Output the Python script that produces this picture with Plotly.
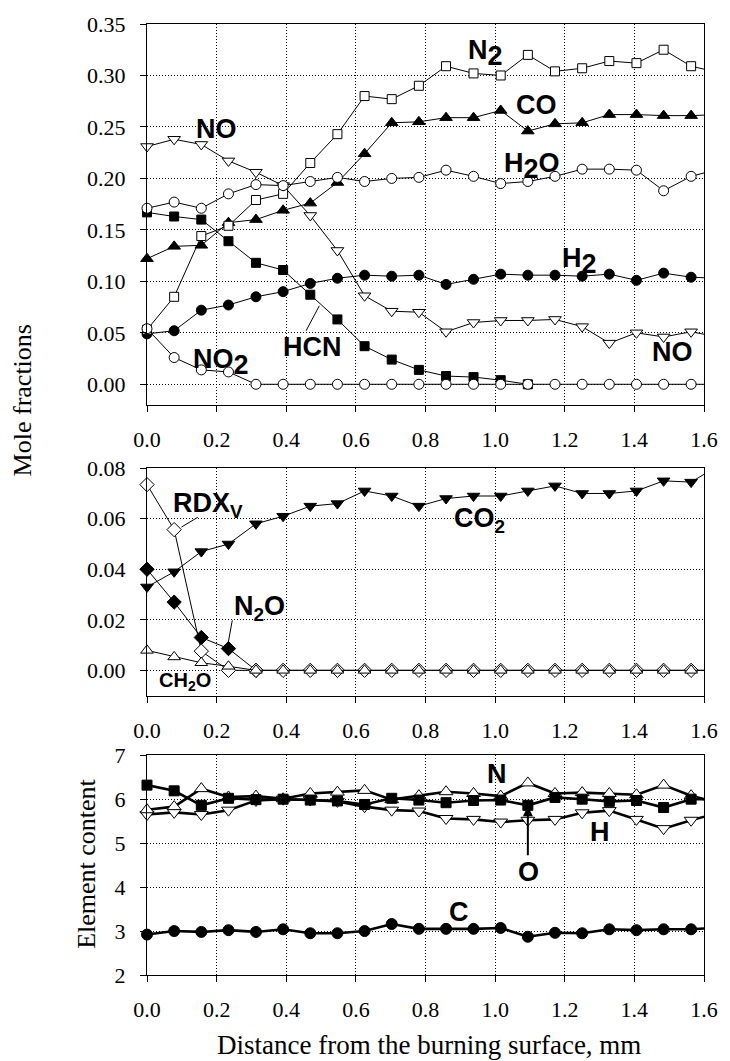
import plotly.graph_objects as go

# ---------------- data ----------------
dist = [0.0, 0.078, 0.156, 0.234, 0.313, 0.391, 0.469, 0.547, 0.625, 0.703, 0.781,
        0.859, 0.938, 1.016, 1.094, 1.172, 1.250, 1.328, 1.406, 1.484, 1.563, 1.641]

# top panel: mole fractions
n2 = [0.053, 0.085, 0.144, 0.154, 0.179, 0.185, 0.215, 0.243, 0.280, 0.277, 0.290,
      0.309, 0.302, 0.300, 0.320, 0.304, 0.307, 0.314, 0.312, 0.325, 0.309, 0.303]
co = [0.122, 0.134, 0.135, 0.157, 0.160, 0.169, 0.176, 0.196, 0.224, 0.254, 0.255,
      0.259, 0.259, 0.266, 0.246, 0.253, 0.254, 0.262, 0.262, 0.261, 0.261, 0.262]
h2o = [0.171, 0.177, 0.171, 0.185, 0.194, 0.193, 0.197, 0.201, 0.197, 0.200, 0.201,
       0.208, 0.202, 0.195, 0.197, 0.202, 0.209, 0.209, 0.208, 0.188, 0.202, 0.209]
h2 = [0.049, 0.052, 0.072, 0.077, 0.085, 0.090, 0.098, 0.103, 0.106, 0.105, 0.106,
      0.097, 0.102, 0.107, 0.106, 0.106, 0.105, 0.107, 0.101, 0.108, 0.104, 0.103]
no = [0.231, 0.238, 0.233, 0.217, 0.206, 0.193, 0.164, 0.130, 0.086, 0.071, 0.070,
      0.051, 0.060, 0.062, 0.062, 0.063, 0.056, 0.040, 0.050, 0.046, 0.051, 0.046]
hcn = [0.167, 0.163, 0.160, 0.139, 0.118, 0.111, 0.087, 0.063, 0.037, 0.024, 0.014,
       0.008, 0.007, 0.004, 0.0]
no2 = [0.054, 0.026, 0.014, 0.012, 0.0, 0.0, 0.0, 0.0, 0.0, 0.0, 0.0,
       0.0, 0.0, 0.0, 0.0, 0.0, 0.0, 0.0, 0.0, 0.0, 0.0, 0.0]

# middle panel
co2 = [0.033, 0.039, 0.047, 0.050, 0.058, 0.061, 0.065, 0.066, 0.071, 0.069, 0.065,
       0.068, 0.069, 0.069, 0.071, 0.073, 0.070, 0.070, 0.071, 0.075, 0.0745, 0.081]
rdx = [0.0735, 0.0557, 0.0076, 0.0, 0.0, 0.0, 0.0, 0.0, 0.0, 0.0, 0.0,
       0.0, 0.0, 0.0, 0.0, 0.0, 0.0, 0.0, 0.0, 0.0, 0.0, 0.0]
ch2o = [0.0079, 0.0053, 0.0030, 0.0016, 0.0, 0.0, 0.0, 0.0, 0.0, 0.0, 0.0,
        0.0, 0.0, 0.0, 0.0, 0.0, 0.0, 0.0, 0.0, 0.0, 0.0, 0.0]
n2o = [0.040, 0.027, 0.013, 0.0086, 0.0]

# bottom panel: element content
el_c = [2.92, 3.00, 2.98, 3.02, 2.98, 3.04, 2.95, 2.95, 3.00, 3.16, 3.05,
        3.05, 3.05, 3.07, 2.87, 2.96, 2.95, 3.04, 3.02, 3.04, 3.04, 3.08]
el_n = [5.76, 5.83, 6.24, 6.05, 6.07, 6.01, 6.13, 6.16, 6.20, 5.99, 6.08,
        6.17, 6.13, 6.07, 6.37, 6.13, 6.15, 6.13, 6.10, 6.32, 6.08, 5.91]
el_o = [6.32, 6.19, 5.86, 6.02, 5.99, 6.00, 5.98, 5.96, 5.88, 6.02, 5.98,
        5.92, 5.97, 5.98, 5.86, 6.04, 6.00, 5.95, 5.97, 5.81, 6.00, 6.00]
el_h = [5.65, 5.70, 5.65, 5.75, 5.97, 6.00, 5.98, 5.95, 5.83, 5.75, 5.73,
        5.56, 5.54, 5.48, 5.52, 5.54, 5.69, 5.74, 5.54, 5.33, 5.52, 5.69]

x_ticks = [0.0, 0.2, 0.4, 0.6, 0.8, 1.0, 1.2, 1.4, 1.6]
x_ticktext = ["0.0", "0.2", "0.4", "0.6", "0.8", "1.0", "1.2", "1.4", "1.6"]
y1_ticks = [0.0, 0.05, 0.10, 0.15, 0.20, 0.25, 0.30, 0.35]
y2_ticks = [0.0, 0.02, 0.04, 0.06, 0.08]
y3_ticks = [2, 3, 4, 5, 6, 7]

# ---------------- figure ----------------
fig = go.Figure()
XMAX = 1.6
SERIF = "Liberation Serif"


def add(ys, symbol, fill, size, xa, ya, lw=1.0):
    xs = dist[:len(ys)]
    fig.add_trace(go.Scatter(x=xs, y=ys, mode="lines", xaxis=xa, yaxis=ya,
                             line=dict(color="black", width=lw),
                             showlegend=False, hoverinfo="skip"))
    mx = [a for a in xs if a <= XMAX]
    my = ys[:len(mx)]
    fig.add_trace(go.Scatter(x=mx, y=my, mode="markers", xaxis=xa, yaxis=ya,
                             marker=dict(symbol=symbol, size=size, color=fill,
                                         line=dict(color="black", width=1)),
                             cliponaxis=False, showlegend=False))


# top panel
add(hcn, "square", "black", 9, "x", "y")
add(h2, "circle", "black", 10, "x", "y")
add(co, "triangle-up", "black", 11, "x", "y")
add(n2, "square", "white", 9, "x", "y")
add(no, "triangle-down", "white", 11, "x", "y")
add(h2o, "circle", "white", 10, "x", "y")
add(no2, "circle", "white", 10, "x", "y")

# middle panel
add(co2, "triangle-down", "black", 11, "x2", "y2")
add(n2o, "diamond", "black", 11, "x2", "y2")
add(rdx, "diamond", "white", 11, "x2", "y2")
add(ch2o, "triangle-up", "white", 11, "x2", "y2")

# bottom panel
add(el_c, "circle", "black", 11, "x3", "y3", lw=2.6)
add(el_h, "triangle-down", "white", 12, "x3", "y3", lw=2.6)
add(el_n, "triangle-up", "white", 12, "x3", "y3", lw=2.6)
add(el_o, "square", "black", 10, "x3", "y3", lw=2.6)


def common():
    return dict(showline=True, linecolor="black", linewidth=1, mirror=True,
                showgrid=True, gridcolor="black", gridwidth=1, griddash="1px,2px",
                zeroline=False, ticks="outside", ticklen=6, tickcolor="black",
                tickfont=dict(family=SERIF, size=22, color="black"))


def xax(anchor):
    d = common()
    d.update(range=[0, XMAX], tickvals=x_ticks, ticktext=x_ticktext, anchor=anchor,
             domain=[0, 1], ticklabelstandoff=9)
    return d


def yax(rng, tv, fmt, dom, anchor):
    d = common()
    d.update(range=rng, tickvals=tv, tickformat=fmt, domain=dom, anchor=anchor,
             ticklabelstandoff=10)
    return d


LAB = dict(family="Liberation Sans", size=27, color="black")
LAB_S = dict(family="Liberation Sans", size=20, color="black")


def sub_full(s):
    return '<sub><span style="font-size:143%">' + s + '</span></sub>'


def lab(text, x, y, xr, yr, font=LAB):
    return dict(text="<b>" + text + "</b>", x=x, y=y, xref=xr, yref=yr,
                showarrow=False, font=font, xanchor="center", yanchor="middle")


annotations = [
    lab("NO", 0.199, 0.248, "x", "y"),
    lab("NO" + sub_full("2"), 0.212, 0.022, "x", "y"),
    lab("HCN", 0.476, 0.036, "x", "y"),
    lab("N" + sub_full("2"), 0.973, 0.322, "x", "y"),
    lab("CO", 1.119, 0.271, "x", "y"),
    lab("H" + sub_full("2") + "O", 1.107, 0.212, "x", "y"),
    lab("H" + sub_full("2"), 1.241, 0.120, "x", "y"),
    lab("NO", 1.510, 0.031, "x", "y"),
    lab("RDX<sub>V</sub>", 0.176, 0.0655, "x2", "y2"),
    lab("N<sub>2</sub>O", 0.322, 0.0245, "x2", "y2"),
    lab("CH<sub>2</sub>O", 0.108, -0.0045, "x2", "y2", LAB_S),
    lab("CO<sub>2</sub>", 0.954, 0.0595, "x2", "y2"),
    lab("N", 1.004, 6.58, "x3", "y3"),
    lab("H", 1.301, 5.26, "x3", "y3"),
    lab("O", 1.095, 4.35, "x3", "y3"),
    lab("C", 0.897, 3.44, "x3", "y3"),
    dict(x=1.094, y=5.84, ax=1.094, ay=4.69, xref="x3", yref="y3",
         axref="x3", ayref="y3", showarrow=True, arrowhead=2, arrowsize=1,
         arrowwidth=2, arrowcolor="black", text=""),
    dict(text="Mole fractions", x=-0.223, y=0.604, xref="paper", yref="paper",
         textangle=-90, showarrow=False, xanchor="center", yanchor="middle",
         font=dict(family=SERIF, size=26, color="black")),
    dict(text="Element content", x=-0.110, y=0.1166, xref="paper", yref="paper",
         textangle=-90, showarrow=False, xanchor="center", yanchor="middle",
         font=dict(family=SERIF, size=26, color="black")),
    dict(text="Distance from the burning surface, mm", x=0.506, y=-0.0735,
         xref="paper", yref="paper", showarrow=False, xanchor="center", yanchor="middle",
         font=dict(family=SERIF, size=27, color="black")),
]

shapes = [
    dict(type="line", xref="x", yref="y", x0=0.457, y0=0.052, x1=0.495, y1=0.0763,
         line=dict(color="black", width=1)),
    dict(type="line", xref="x2", yref="y2", x0=0.146, y0=0.0606, x1=0.099, y1=0.0567,
         line=dict(color="black", width=1)),
    dict(type="line", xref="x2", yref="y2", x0=0.245, y0=0.0198, x1=0.231, y1=0.0092,
         line=dict(color="black", width=1)),
]

fig.update_layout(
    width=730, height=1061,
    margin=dict(l=147, r=18, t=23, b=86),
    paper_bgcolor="white", plot_bgcolor="white",
    font=dict(family=SERIF, size=22, color="black"),
    xaxis=xax("y"), xaxis2=xax("y2"), xaxis3=xax("y3"),
    yaxis=yax([-0.02, 0.35], y1_ticks, ".2f", [0.5995, 1.0], "x"),
    yaxis2=yax([-0.01, 0.08], y2_ticks, ".2f", [0.2938, 0.5329], "x2"),
    yaxis3=yax([2, 7], y3_ticks, "d", [0.0, 0.2311], "x3"),
    annotations=annotations, shapes=shapes,
    showlegend=False,
)

fig.write_html("out.html",
               config={"displayModeBar": False},
               post_script="document.body.style.margin='0px';"
                           "document.body.style.overflow='hidden';")
